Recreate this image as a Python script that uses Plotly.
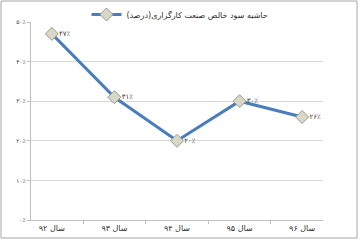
import plotly.graph_objects as go

categories = ["سال ۹۲", "سال ۹۳", "سال ۹۴", "سال ۹۵", "سال ۹۶"]
values = [0.47, 0.31, 0.20, 0.30, 0.26]
point_labels = ["۴۷٪", "۳۱٪", "۲۰٪", "۳۰٪", "۲۶٪"]
series_name = "حاشیه سود خالص صنعت کارگزاری(درصد)"
y_tickvals = [0, 0.1, 0.2, 0.3, 0.4, 0.5]
y_ticktext = ["۰٪", "۱۰٪", "۲۰٪", "۳۰٪", "۴۰٪", "۵۰٪"]

font_family = "DejaVu Sans"

fig = go.Figure()
fig.add_trace(go.Scatter(
    x=categories, y=values, name=series_name,
    mode="lines+markers+text",
    text=point_labels, textposition="middle right",
    textfont=dict(size=7, color="#404040", family=font_family),
    line=dict(color="#4A7EBB", width=3),
    marker=dict(symbol="diamond", size=10, color="#D8D8C8",
                line=dict(color="#9A9A8A", width=1)),
))

fig.update_layout(
    width=360, height=240,
    margin=dict(l=31, r=37, t=22, b=20, autoexpand=False),
    paper_bgcolor="white", plot_bgcolor="white",
    font=dict(family=font_family, size=7, color="#404040"),
    showlegend=True,
    legend=dict(orientation="h", x=0.5, xanchor="center", xref="container",
                y=1.0, yanchor="top", yref="container",
                font=dict(size=8, color="#303030"), bgcolor="rgba(0,0,0,0)",
                itemwidth=30),
    xaxis=dict(type="category", showgrid=False, showline=True, linecolor="#BFBFBF",
               ticks="outside", tickson="boundaries", ticklen=3, tickcolor="#BFBFBF",
               tickfont=dict(size=8, color="#303030"), fixedrange=True),
    yaxis=dict(range=[0, 0.5], tickvals=y_tickvals, ticktext=y_ticktext,
               showgrid=True, gridcolor="#D9D9D9", gridwidth=1,
               showline=True, linecolor="#BFBFBF", zeroline=False,
               ticks="outside", ticklen=3, tickcolor="#BFBFBF",
               tickfont=dict(size=6, color="#404040"), fixedrange=True),
    shapes=[dict(type="rect", xref="paper", yref="paper",
                 x0=-30/292, x1=326/292, y0=-18/198, y1=219/198,
                 line=dict(color="#A6A6A6", width=1), fillcolor="rgba(0,0,0,0)")],
)

fig.write_html("out.html")
